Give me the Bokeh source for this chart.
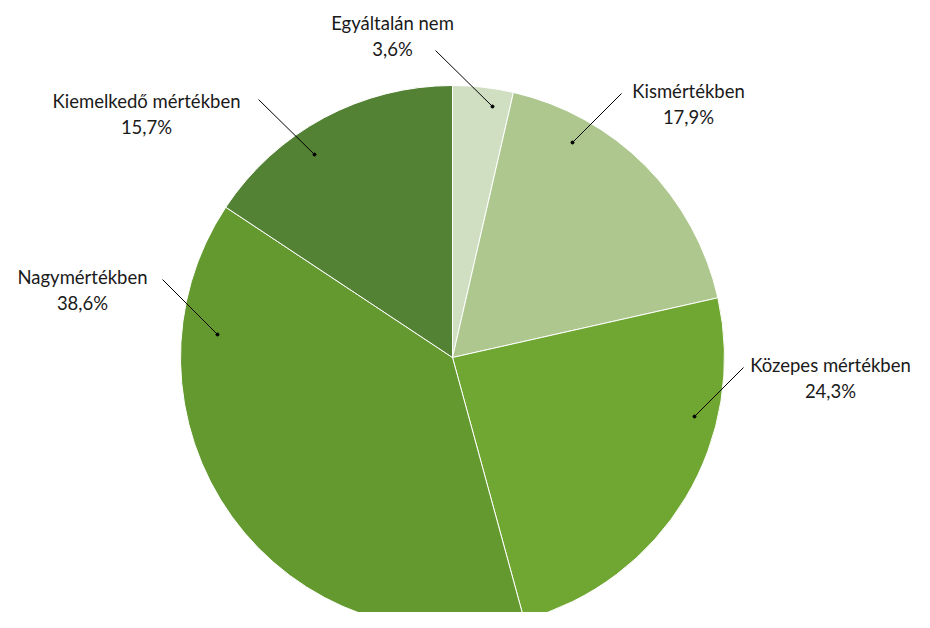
import math
from bokeh.plotting import figure
from bokeh.models import Range1d, ColumnDataSource
from bokeh.core.properties import value
from bokeh.embed import file_html
from bokeh.resources import INLINE

# ---- data ----
categories = ["Egyáltalán nem", "Kismértékben", "Közepes mértékben", "Nagymértékben", "Kiemelkedő mértékben"]
shares = [3.6, 17.9, 24.3, 38.6, 15.7]
colors = ["#d0dfc1", "#adc78e", "#70a732", "#63992f", "#548235"]

# ---- layout (pixel coordinates, y measured downward) ----
W, H = 914, 612
cx, cy, R = 452, 357, 272
label_pos = [(392, 22), (688, 90), (830, 364), (82, 276), (146, 100)]
leader = [((435, 50), (492, 106)), ((621, 93), (572, 142)), ((743, 367), (694, 416)),
          ((162, 279), (217, 334)), ((258, 99), (314, 154))]

p = figure(width=W, height=H, output_backend="svg", toolbar_location=None,
           x_range=Range1d(0, W), y_range=Range1d(-H, 0),
           min_border=0, outline_line_color=None)
p.axis.visible = False
p.grid.visible = False
p.background_fill_color = "white"
p.border_fill_color = "white"

total = sum(shares)
starts, ends = [], []
cum = 0.0
for s in shares:
    starts.append(math.pi / 2 - 2 * math.pi * cum / total)
    cum += s
    ends.append(math.pi / 2 - 2 * math.pi * cum / total)

src = ColumnDataSource(dict(start=starts, end=ends, color=colors))
p.wedge(x=cx, y=-cy, radius=R, start_angle="start", end_angle="end", direction="clock",
        fill_color="color", line_color="white", line_width=1, source=src)

# leader lines
for (a, b) in leader:
    p.line([a[0], b[0]], [-a[1], -b[1]], line_color="black", line_width=1)
    p.scatter([b[0]], [-b[1]], size=3, color="black")

fmt = lambda v: ("%.1f" % v).replace(".", ",") + "%"
lx = [lp[0] for lp in label_pos]
ly1 = [-lp[1] for lp in label_pos]
ly2 = [-(lp[1] + 26) for lp in label_pos]
p.text(x=lx, y=ly1, text=categories, text_font=value("Lato"), text_font_size="18.5px",
       text_align="center", text_baseline="middle", text_color="#1a1a1a")
p.text(x=lx, y=ly2, text=[fmt(v) for v in shares], text_font=value("Lato"), text_font_size="18.5px",
       text_align="center", text_baseline="middle", text_color="#1a1a1a")

open("out.html", "w").write(file_html(p, INLINE))
